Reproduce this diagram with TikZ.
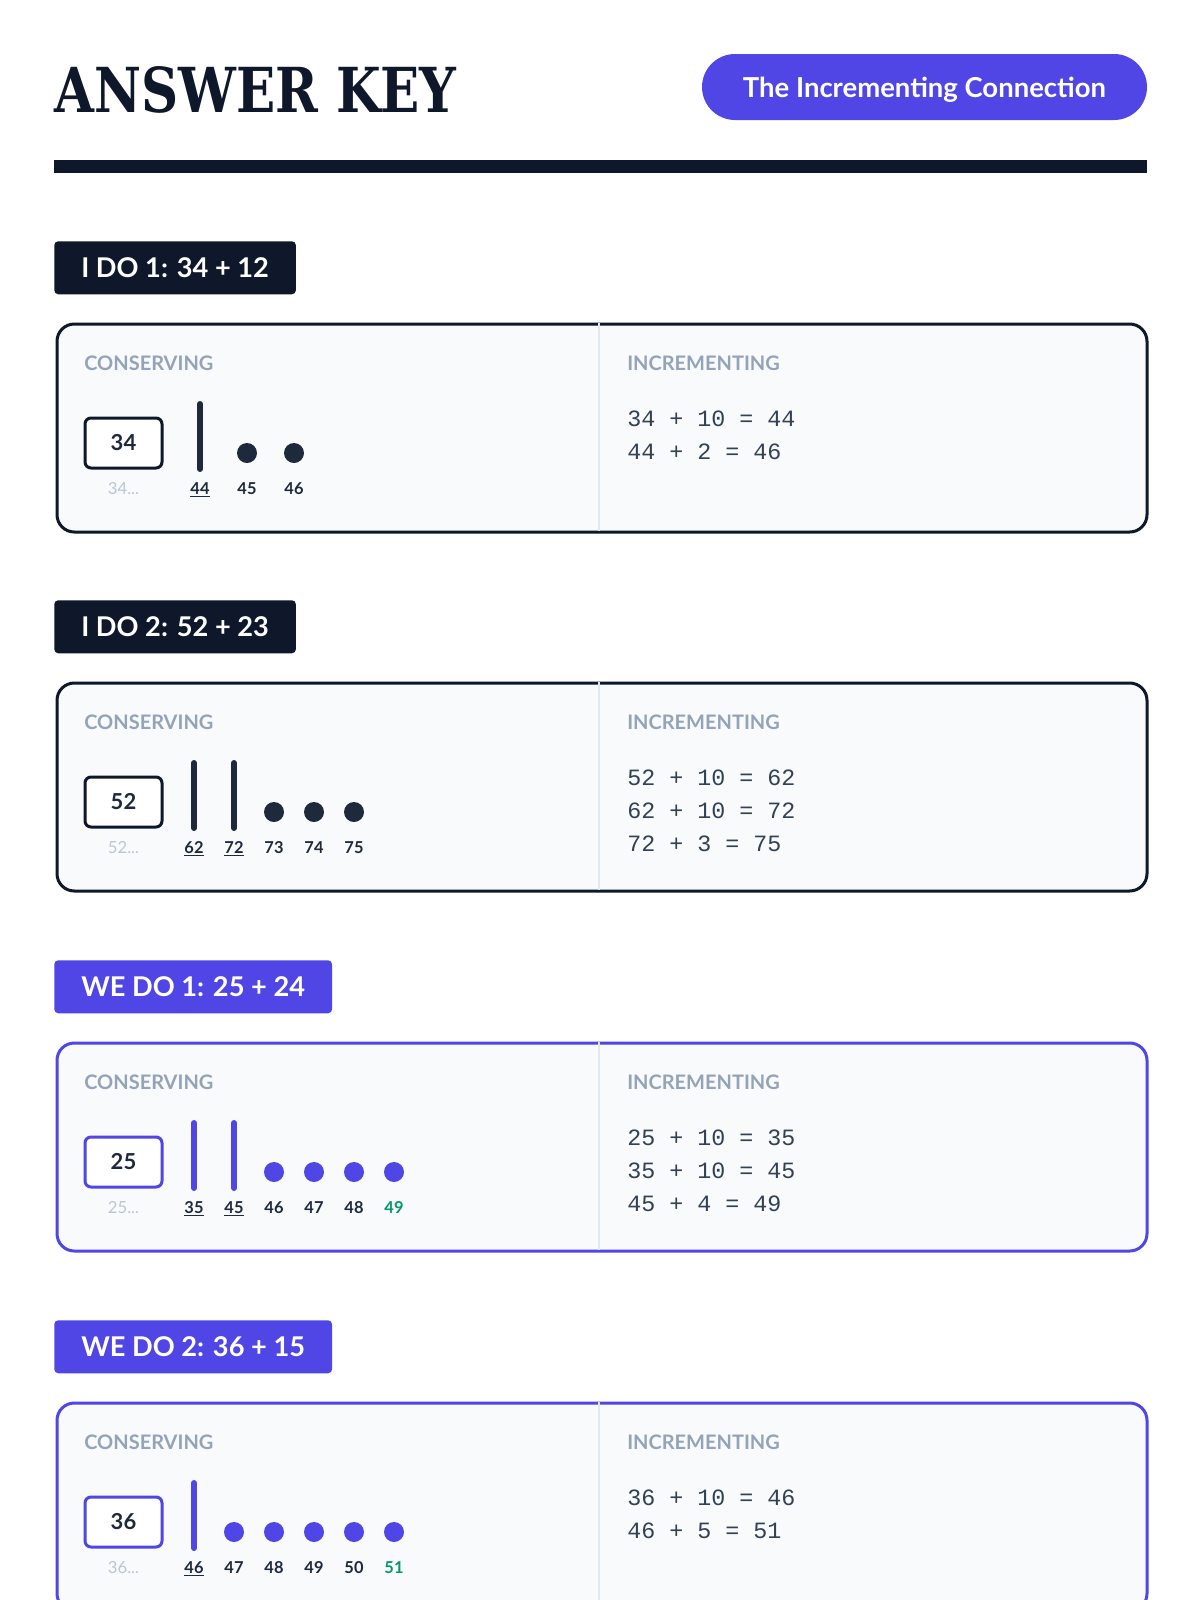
\documentclass[tikz,border=0pt]{standalone}
\usepackage{fontspec}
\setmainfont{Lato}
\newfontfamily\titlefont{DejaVu Serif}
\newfontfamily\eqfont{Liberation Mono}
\definecolor{ink}{HTML}{0F172A}
\definecolor{slateA}{HTML}{1E293B}
\definecolor{slateB}{HTML}{334155}
\definecolor{slateC}{HTML}{94A3B8}
\definecolor{slateD}{HTML}{BCC6D3}
\definecolor{slateE}{HTML}{E2E8F0}
\definecolor{cardbg}{HTML}{F8FAFC}
\definecolor{indigo}{HTML}{4F46E5}
\definecolor{emerald}{HTML}{059669}
\newcommand\ulnum[1]{\setbox0\hbox{#1}\rlap{\rule[-2.6pt]{\wd0}{1.1pt}}\box0}
\tikzset{
  seclabel/.style={anchor=north west, inner xsep=20.25pt, inner ysep=0pt, minimum height=39.75pt,
    rounded corners=3pt, text=white, font=\bfseries\fontsize{20.4}{20.4}\selectfont},
  cardbox/.style={anchor=north west, rounded corners=13pt, line width=2.25pt, fill=cardbg,
    minimum width=817.5pt, minimum height=156pt, inner sep=0pt},
  divider/.style={draw=slateE, line width=1.5pt},
  captext/.style={anchor=west, inner sep=0pt, text=slateC, font=\bfseries\fontsize{15}{15}\selectfont},
  numbox/.style={rounded corners=4.5pt, line width=2.25pt, fill=white, minimum width=57.75pt,
    minimum height=37.5pt, inner sep=0pt, text=slateA, font=\bfseries\fontsize{16.5}{16.5}\selectfont},
  faint/.style={anchor=base, inner sep=0pt, text=slateD, font=\fontsize{12.5}{12.5}\selectfont},
  lab/.style={anchor=base, inner sep=0pt, text=slateA, font=\bfseries\fontsize{12.3}{12.3}\selectfont},
  rod/.style={line width=4.5pt, line cap=round},
  dot/.style={circle, minimum size=15pt, inner sep=0pt},
  eq/.style={anchor=west, inner sep=0pt, text=slateB, font=\eqfont\fontsize{17.5}{17.5}\selectfont},
}
\begin{document}
\begin{tikzpicture}[x=0.75pt,y=-0.75pt]
\clip (0,0) rectangle (1200,1600);
\fill[white] (0,0) rectangle (1200,1600);

% header
\node[anchor=base west, inner sep=0pt, text=ink, font=\titlefont\bfseries\fontsize{46.5}{46.5}\selectfont] (title) at (54,112) {\scalebox{0.83}[1]{ANSWER KEY}};
\node[fill=indigo, rounded corners=24.75pt, minimum width=333.75pt, minimum height=49.5pt, inner sep=0pt,
  text=white, text depth=0pt, font=\bfseries\fontsize{20.6}{20.6}\selectfont] (pill) at (924.5,87) {The Incrementing Connection};
\fill[ink] (54,160) rectangle (1147,173);

% ===== I DO 1 =====
\node[seclabel, fill=ink] (l1) at (54,241) {I DO 1: 34 + 12};
\node[cardbox, draw=ink] (c1) at (55.5,322.5) {};
\draw[divider] (599,322.5) -- (599,530.5);
\node[captext] (c1a) at (84,363) {CONSERVING};
\node[captext] (c1b) at (627,363) {INCREMENTING};
\node[numbox, draw=ink] (c1box) at (123.5,443) {34};
\node[faint] (c1f) at (123.5,494) {34...};
\draw[rod, draw=slateA] (200,404) -- (200,469);
\node[lab] (c1n1) at (200,494) {\ulnum{44}};
\node[dot, fill=slateA] (c1d2) at (247,453) {};
\node[lab] (c1n2) at (247,494) {45};
\node[dot, fill=slateA] (c1d3) at (294,453) {};
\node[lab] (c1n3) at (294,494) {46};
\node[eq] (c1e1) at (627,419) {34 + 10 = 44};
\node[eq] (c1e2) at (627,452) {44 + 2 = 46};

% ===== I DO 2 =====
\node[seclabel, fill=ink] (l2) at (54,600) {I DO 2: 52 + 23};
\node[cardbox, draw=ink] (c2) at (55.5,681.5) {};
\draw[divider] (599,681.5) -- (599,889.5);
\node[captext] (c2a) at (84,722) {CONSERVING};
\node[captext] (c2b) at (627,722) {INCREMENTING};
\node[numbox, draw=ink] (c2box) at (123.5,802) {52};
\node[faint] (c2f) at (123.5,853) {52...};
\draw[rod, draw=slateA] (194,763) -- (194,828);
\node[lab] (c2n1) at (194,853) {\ulnum{62}};
\draw[rod, draw=slateA] (234,763) -- (234,828);
\node[lab] (c2n2) at (234,853) {\ulnum{72}};
\node[dot, fill=slateA] (c2d3) at (274,812) {};
\node[lab] (c2n3) at (274,853) {73};
\node[dot, fill=slateA] (c2d4) at (314,812) {};
\node[lab] (c2n4) at (314,853) {74};
\node[dot, fill=slateA] (c2d5) at (354,812) {};
\node[lab] (c2n5) at (354,853) {75};
\node[eq] (c2e1) at (627,778) {52 + 10 = 62};
\node[eq] (c2e2) at (627,811) {62 + 10 = 72};
\node[eq] (c2e3) at (627,844) {72 + 3 = 75};

% ===== WE DO 1 =====
\node[seclabel, fill=indigo] (l3) at (54,960) {WE DO 1: 25 + 24};
\node[cardbox, draw=indigo] (c3) at (55.5,1041.5) {};
\draw[divider] (599,1041.5) -- (599,1249.5);
\node[captext] (c3a) at (84,1082) {CONSERVING};
\node[captext] (c3b) at (627,1082) {INCREMENTING};
\node[numbox, draw=indigo] (c3box) at (123.5,1162) {25};
\node[faint] (c3f) at (123.5,1213) {25...};
\draw[rod, draw=indigo] (194,1123) -- (194,1188);
\node[lab] (c3n1) at (194,1213) {\ulnum{35}};
\draw[rod, draw=indigo] (234,1123) -- (234,1188);
\node[lab] (c3n2) at (234,1213) {\ulnum{45}};
\node[dot, fill=indigo] (c3d3) at (274,1172) {};
\node[lab] (c3n3) at (274,1213) {46};
\node[dot, fill=indigo] (c3d4) at (314,1172) {};
\node[lab] (c3n4) at (314,1213) {47};
\node[dot, fill=indigo] (c3d5) at (354,1172) {};
\node[lab] (c3n5) at (354,1213) {48};
\node[dot, fill=indigo] (c3d6) at (394,1172) {};
\node[lab, text=emerald] (c3n6) at (394,1213) {49};
\node[eq] (c3e1) at (627,1138) {25 + 10 = 35};
\node[eq] (c3e2) at (627,1171) {35 + 10 = 45};
\node[eq] (c3e3) at (627,1204) {45 + 4 = 49};

% ===== WE DO 2 =====
\node[seclabel, fill=indigo] (l4) at (54,1320) {WE DO 2: 36 + 15};
\node[cardbox, draw=indigo] (c4) at (55.5,1401.5) {};
\draw[divider] (599,1401.5) -- (599,1609.5);
\node[captext] (c4a) at (84,1442) {CONSERVING};
\node[captext] (c4b) at (627,1442) {INCREMENTING};
\node[numbox, draw=indigo] (c4box) at (123.5,1522) {36};
\node[faint] (c4f) at (123.5,1573) {36...};
\draw[rod, draw=indigo] (194,1483) -- (194,1548);
\node[lab] (c4n1) at (194,1573) {\ulnum{46}};
\node[dot, fill=indigo] (c4d2) at (234,1532) {};
\node[lab] (c4n2) at (234,1573) {47};
\node[dot, fill=indigo] (c4d3) at (274,1532) {};
\node[lab] (c4n3) at (274,1573) {48};
\node[dot, fill=indigo] (c4d4) at (314,1532) {};
\node[lab] (c4n4) at (314,1573) {49};
\node[dot, fill=indigo] (c4d5) at (354,1532) {};
\node[lab] (c4n5) at (354,1573) {50};
\node[dot, fill=indigo] (c4d6) at (394,1532) {};
\node[lab, text=emerald] (c4n6) at (394,1573) {51};
\node[eq] (c4e1) at (627,1498) {36 + 10 = 46};
\node[eq] (c4e2) at (627,1531) {46 + 5 = 51};
\end{tikzpicture}
\end{document}
